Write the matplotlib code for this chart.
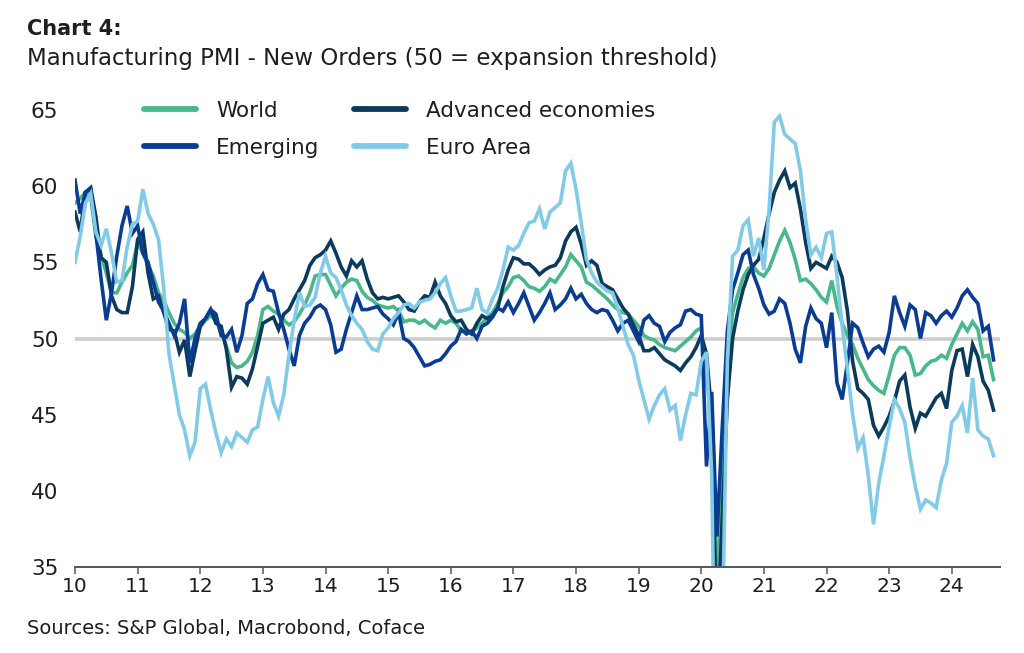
import numpy as np
import matplotlib
matplotlib.use("Agg")
import matplotlib.pyplot as plt
from matplotlib.lines import Line2D

# ---- data (monthly, Jan 2010 - Sep 2024) ----
world = [
    58.9, 59.2, 59.6, 59.3, 56.7, 55.4, 54.3, 53.0, 53.0, 53.7, 54.3, 54.8,
    56.3, 55.6, 54.8, 54.1, 53.0, 52.5, 51.7, 51.0, 50.6, 50.4, 50.0, 50.3,
    50.8, 51.2, 51.5, 51.2, 50.4, 49.5, 48.4, 48.1, 48.2, 48.5, 49.1, 50.2,
    51.9, 52.1, 51.8, 51.6, 51.2, 50.9, 51.1, 51.6, 52.2, 53.0, 54.1, 54.2,
    54.2, 53.5, 52.8, 53.3, 53.7, 53.9, 53.8, 53.1, 52.7, 52.5, 52.2, 52.1,
    52.0, 52.1, 51.8, 51.1, 51.2, 51.2, 51.0, 51.2, 50.9, 50.7, 51.2, 51.0,
    51.2, 51.0, 50.5, 50.4, 50.4, 50.7, 51.0, 51.4, 51.7, 52.3, 53.0, 53.4,
    54.0, 54.1, 53.8, 53.4, 53.3, 53.1, 53.4, 53.9, 53.7, 54.2, 54.7, 55.5,
    55.1, 54.7, 53.7, 53.5, 53.2, 52.9, 52.6, 52.2, 51.9, 51.7, 51.6, 51.2,
    50.8, 50.2, 50.0, 49.9, 49.6, 49.4, 49.3, 49.2, 49.5, 49.8, 50.1, 50.5,
    50.7, 47.0, 45.5, 33.5, 40.5, 48.0, 51.7, 52.9, 54.0, 54.6, 54.7, 54.3,
    54.1, 54.6, 55.5, 56.4, 57.1, 56.3, 55.2, 53.8, 53.9, 53.6, 53.2, 52.7,
    52.4, 53.8, 52.1, 51.0, 50.2, 49.6, 48.7, 48.0, 47.3, 46.9, 46.6, 46.4,
    47.6, 48.9, 49.4, 49.4, 48.9, 47.6, 47.7, 48.2, 48.5, 48.6, 48.9, 48.7,
    49.6, 50.3, 51.0, 50.5, 51.1, 50.6, 48.8, 48.9, 47.3,
]

advanced = [
    58.3, 57.0, 59.6, 59.9, 58.0, 55.3, 55.0, 52.8, 51.9, 51.7, 51.7, 53.4,
    56.5, 57.0, 54.3, 52.6, 52.8, 51.7, 50.6, 50.5, 49.1, 49.9, 47.5, 49.2,
    50.8, 51.3, 51.9, 51.0, 50.8, 49.3, 46.8, 47.5, 47.4, 47.0, 48.0, 49.5,
    51.0, 51.2, 51.4, 50.6, 51.6, 51.9, 52.6, 53.2, 53.8, 54.8, 55.3, 55.5,
    55.8, 56.4, 55.6, 54.7, 54.1, 55.1, 54.7, 55.1, 53.9, 53.0, 52.6, 52.7,
    52.6, 52.7, 52.8, 52.4, 51.9, 51.8, 52.4, 52.8, 52.7, 53.7, 52.8, 52.3,
    51.5, 51.1, 51.2, 50.6, 50.3, 51.0, 51.5, 51.3, 51.5, 52.0, 53.4, 54.5,
    55.3, 55.2, 54.9, 54.9, 54.6, 54.2, 54.5, 54.7, 54.8, 55.3, 56.4, 57.0,
    57.3, 56.2, 54.8, 55.1, 54.8, 53.6, 53.4, 53.2, 52.6, 52.0, 51.6, 50.9,
    50.2, 49.2, 49.2, 49.4, 49.0, 48.6, 48.4, 48.2, 47.9, 48.4, 48.8, 49.4,
    50.2, 49.0, 45.0, 30.0, 38.0, 46.0, 50.0, 51.8, 53.2, 54.2, 54.8, 55.2,
    56.6, 58.2, 59.6, 60.4, 61.0, 59.9, 60.2, 58.5, 56.3, 54.6, 55.0, 54.8,
    54.6, 55.4, 55.0, 54.0, 51.8, 48.5, 46.7, 46.4, 46.0, 44.3, 43.6, 44.2,
    44.9, 45.9, 47.2, 47.6, 45.5, 44.1, 45.1, 44.9, 45.5, 46.1, 46.4, 45.4,
    47.9, 49.2, 49.3, 47.5, 49.6, 48.8, 47.2, 46.6, 45.3,
]

emerging = [
    60.4, 58.2, 59.6, 59.8, 56.9, 53.9, 51.2, 53.0, 55.4, 57.4, 58.7, 56.9,
    57.4, 55.6, 55.0, 53.7, 52.4, 51.8, 51.0, 50.2, 51.0, 52.6, 48.4, 50.0,
    51.0, 51.3, 51.9, 51.6, 50.2, 50.1, 50.6, 49.1, 50.2, 52.3, 52.6, 53.6,
    54.2, 53.2, 53.1, 51.7, 50.6, 49.3, 48.2, 50.2, 51.0, 51.4, 52.0, 52.2,
    51.9, 50.9, 49.1, 49.3, 50.6, 51.7, 52.8, 51.9, 51.9, 52.0, 52.1, 51.6,
    51.3, 50.9, 51.7, 50.0, 49.8, 49.4, 48.8, 48.2, 48.3, 48.5, 48.6, 49.0,
    49.5, 49.8, 50.6, 50.3, 50.5, 50.0, 50.8, 51.0, 51.4, 52.0, 51.8, 52.4,
    51.7, 52.3, 53.0, 52.1, 51.2, 51.7, 52.3, 53.0, 51.9, 52.2, 52.6, 53.3,
    52.6, 52.9, 52.3, 51.9, 51.7, 51.9, 51.8, 51.2, 50.5, 51.0, 51.2, 50.5,
    49.8, 51.2, 51.5, 51.0, 50.8, 49.8, 50.4, 50.7, 50.9, 51.8, 51.9, 51.6,
    51.5, 41.6, 46.5, 37.0, 44.0, 50.5, 53.2, 54.3, 55.5, 55.8, 54.2, 53.3,
    52.2, 51.6, 51.8, 52.6, 52.3, 51.0, 49.3, 48.4, 50.8, 52.0, 51.3, 51.0,
    49.4, 51.7, 47.1, 46.0, 48.4, 51.0, 50.7, 49.7, 48.8, 49.3, 49.5, 49.1,
    50.4, 52.8, 51.7, 50.8, 52.2, 51.9, 50.0, 51.7, 51.5, 51.0, 51.5, 51.8,
    51.4, 52.0, 52.8, 53.2, 52.7, 52.3, 50.5, 50.8, 48.6,
]

euro_area = [
    55.0, 56.7, 58.9, 59.5, 57.0, 56.1, 57.2, 55.6, 53.7, 53.8, 56.0, 57.5,
    57.7, 59.8, 58.2, 57.5, 56.5, 53.3, 49.0, 47.0, 45.0, 44.0, 42.3, 43.2,
    46.7, 47.0, 45.3, 43.8, 42.5, 43.4, 42.9, 43.8, 43.5, 43.2, 44.0, 44.2,
    46.0, 47.5, 45.8, 44.9, 46.3, 48.9, 51.2, 53.0, 52.1, 52.2, 52.7, 54.3,
    55.4, 54.3, 54.0, 53.2, 52.2, 51.5, 51.0, 50.6, 49.8, 49.3, 49.2, 50.3,
    50.7, 51.3, 51.7, 52.2, 52.3, 52.0, 52.4, 52.5, 52.6, 53.0, 53.6, 54.0,
    52.8, 51.8, 51.8, 51.9, 52.0, 53.3, 51.9, 51.7, 52.6, 53.3, 54.5, 56.0,
    55.8, 56.1, 56.9, 57.6, 57.7, 58.5, 57.2, 58.3, 58.6, 58.9, 61.0, 61.5,
    59.8, 57.6, 55.2, 54.3, 53.7, 53.4, 53.1, 53.0, 52.0, 50.8, 49.6, 48.9,
    47.3, 46.0, 44.7, 45.6, 46.3, 46.7, 45.3, 45.6, 43.3, 45.0, 46.4, 46.3,
    48.5, 49.1, 41.0, 18.5, 30.0, 48.5, 55.4, 55.8, 57.4, 57.8, 55.4, 56.6,
    54.5, 58.5, 64.2, 64.6, 63.4, 63.1, 62.8, 61.0, 57.8, 55.5, 56.0, 55.3,
    56.9, 57.0, 54.1, 50.8, 48.0, 45.0, 42.8, 43.5, 41.0, 37.8, 40.5, 42.3,
    44.2, 46.0, 45.4, 44.5, 42.2, 40.3, 38.8, 39.4, 39.2, 38.9, 40.7, 41.8,
    44.5, 44.9, 45.6, 43.8, 47.4, 44.0, 43.6, 43.4, 42.3,
]

start_year = 10          # two-digit year of first observation (Jan 2010)
year_ticks = list(range(10, 25))
year_labels = [str(y) for y in year_ticks]
y_ticks = [35, 40, 45, 50, 55, 60, 65]
threshold = 50

colors = {
    "World": "#48b88b",
    "Advanced economies": "#0c3a5c",
    "Emerging": "#0b3c94",
    "Euro Area": "#82cbe8",
}

# ---- figure ----
W, H = 1024, 653
plt.rcParams["font.family"] = ["DejaVu Sans"]
fig = plt.figure(figsize=(W / 100, H / 100), dpi=100)
fig.patch.set_facecolor("white")

ax_left, ax_right, ax_top, ax_bottom = 75, 1000, 110, 567
ax = fig.add_axes([ax_left / W, 1 - ax_bottom / H,
                   (ax_right - ax_left) / W, (ax_bottom - ax_top) / H])

n = len(world)
x = start_year + np.arange(n) / 12.0

ax.axhline(threshold, color="#cdcdcd", lw=2.6, zorder=1)

data = {"World": world, "Advanced economies": advanced,
        "Emerging": emerging, "Euro Area": euro_area}
for name in ["World", "Advanced economies", "Emerging", "Euro Area"]:
    ax.plot(x, data[name], color=colors[name], lw=2.6, zorder=3,
            solid_joinstyle="miter")

ax.set_xlim(10, 24.77)
ax.set_ylim(35, 65)
ax.set_xticks(year_ticks)
ax.set_xticklabels(year_labels)
ax.set_yticks(y_ticks)

for s in ["top", "right", "left"]:
    ax.spines[s].set_visible(False)
ax.spines["bottom"].set_color("#555555")
ax.spines["bottom"].set_linewidth(1.4)
ax.spines["bottom"].set_zorder(5)

txt_color = "#1e1e1e"
ax.tick_params(axis="x", direction="out", length=5, width=1.1,
               color="#555555", labelsize=14.5, labelcolor=txt_color, pad=2)
ax.tick_params(axis="y", length=0, labelsize=15.5, labelcolor=txt_color,
               pad=12)

# ---- legend ----
order = ["World", "Emerging", "Advanced economies", "Euro Area"]
handles = [Line2D([], [], color=colors[nm], lw=4.2, solid_capstyle="round")
           for nm in order]
leg = fig.legend(handles, order, ncol=2, loc="upper left",
                 bbox_to_anchor=(144 / W, 1 - 101 / H), frameon=False,
                 fontsize=15.5, handlelength=2.4, handletextpad=0.95,
                 columnspacing=1.6, labelspacing=0.78, borderpad=0,
                 borderaxespad=0)
for t in leg.get_texts():
    t.set_color(txt_color)

# ---- titles ----
fig.text(27 / W, 1 - 29 / H, "Chart 4:", fontsize=15, fontweight="bold",
         color=txt_color, va="center", ha="left")
fig.text(27 / W, 1 - 59 / H,
         "Manufacturing PMI - New Orders (50 = expansion threshold)",
         fontsize=16.5, color=txt_color, va="center", ha="left")
fig.text(27 / W, 1 - 628 / H, "Sources: S&P Global, Macrobond, Coface",
         fontsize=14, color=txt_color, va="center", ha="left")

fig.savefig("out.png", dpi=100, facecolor="white")
